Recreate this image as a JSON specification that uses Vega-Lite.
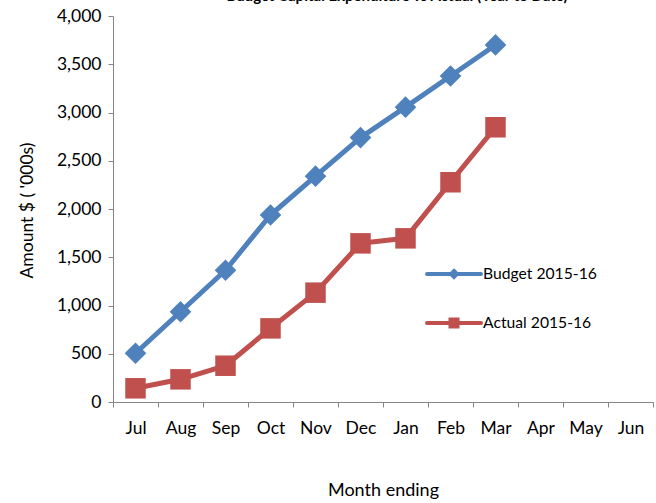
{
  "$schema": "https://vega.github.io/schema/vega-lite/v6.json",
  "autosize": {"type": "none"},
  "width": 540,
  "height": 386,
  "padding": {"left": 113, "top": 16, "right": 3, "bottom": 101},
  "background": "white",
  "title": {
    "text": "Budget Capital Expenditure vs Actual (Year to Date)",
    "font": "Lato",
    "fontSize": 15,
    "fontWeight": "bold",
    "color": "#000000",
    "anchor": "middle",
    "offset": 0,
    "dx": 14,
    "dy": -3
  },
  "config": {
    "view": {"stroke": null},
    "font": "Lato",
    "axis": {
      "labelFont": "Lato",
      "titleFont": "Lato",
      "labelFontSize": 17.5,
      "titleFontSize": 17.5,
      "titleFontWeight": "normal",
      "labelColor": "#000000",
      "titleColor": "#000000",
      "domainColor": "#868686",
      "tickColor": "#868686",
      "tickSize": 5,
      "grid": false
    },
    "legend": {
      "labelFont": "Lato",
      "labelFontSize": 15.7,
      "labelColor": "#000000"
    }
  },
  "data": {
    "values": [
      {"month": "Jul", "series": "Budget 2015-16", "value": 505},
      {"month": "Aug", "series": "Budget 2015-16", "value": 935},
      {"month": "Sep", "series": "Budget 2015-16", "value": 1365},
      {"month": "Oct", "series": "Budget 2015-16", "value": 1938},
      {"month": "Nov", "series": "Budget 2015-16", "value": 2340},
      {"month": "Dec", "series": "Budget 2015-16", "value": 2740},
      {"month": "Jan", "series": "Budget 2015-16", "value": 3055},
      {"month": "Feb", "series": "Budget 2015-16", "value": 3378},
      {"month": "Mar", "series": "Budget 2015-16", "value": 3700},
      {"month": "Jul", "series": "Actual 2015-16", "value": 142},
      {"month": "Aug", "series": "Actual 2015-16", "value": 235},
      {"month": "Sep", "series": "Actual 2015-16", "value": 376},
      {"month": "Oct", "series": "Actual 2015-16", "value": 763},
      {"month": "Nov", "series": "Actual 2015-16", "value": 1133},
      {"month": "Dec", "series": "Actual 2015-16", "value": 1644},
      {"month": "Jan", "series": "Actual 2015-16", "value": 1696},
      {"month": "Feb", "series": "Actual 2015-16", "value": 2277},
      {"month": "Mar", "series": "Actual 2015-16", "value": 2847}
    ]
  },
  "encoding": {
    "x": {
      "field": "month",
      "type": "ordinal",
      "bandPosition": 0.5,
      "scale": {
        "type": "band",
        "domain": ["Jul", "Aug", "Sep", "Oct", "Nov", "Dec", "Jan", "Feb", "Mar", "Apr", "May", "Jun"],
        "paddingInner": 0,
        "paddingOuter": 0
      },
      "axis": {
        "title": "Month ending",
        "titleFontSize": 18,
        "tickBand": "extent",
        "labelAngle": 0,
        "labelPadding": 12,
        "titleY": 88,
        "titleBaseline": "middle"
      }
    },
    "y": {
      "field": "value",
      "type": "quantitative",
      "scale": {"domain": [0, 4000], "nice": false},
      "axis": {
        "title": "Amount $ ( '000s)",
        "values": [0, 500, 1000, 1500, 2000, 2500, 3000, 3500, 4000],
        "format": ",.0f",
        "labelPadding": 7,
        "titleX": -86,
        "titleY": 194,
        "titleAngle": -90,
        "titleBaseline": "middle",
        "titleAlign": "center"
      }
    }
  },
  "layer": [
    {
      "mark": {"type": "line", "strokeWidth": 5, "strokeCap": "round", "strokeJoin": "round"},
      "encoding": {
        "color": {
          "field": "series",
          "type": "nominal",
          "scale": {"domain": ["Budget 2015-16", "Actual 2015-16"], "range": ["#4F81BD", "#C0504D"]},
          "legend": {
            "title": null,
            "orient": "none",
            "legendX": 312,
            "legendY": 229,
            "symbolSize": 2916,
            "symbolStrokeWidth": 4,
            "rowPadding": 9,
            "labelOffset": 0,
            "encode": {
              "symbols": {
                "update": {
                  "shape": {"signal": "datum.value === 'Budget 2015-16' ? 'M-1,0L1,0M0,-0.11L0.11,0L0,0.11L-0.11,0Z' : 'M-1,0L1,0M-0.13,-0.13L0.13,-0.13L0.13,0.13L-0.13,0.13Z'"},
                  "fill": {"signal": "datum.value === 'Budget 2015-16' ? '#4F81BD' : '#C0504D'"},
                  "strokeCap": {"value": "round"}
                }
              }
            }
          }
        }
      }
    },
    {
      "transform": [{"filter": "datum.series === 'Budget 2015-16'"}],
      "mark": {"type": "point", "filled": true, "opacity": 1, "strokeWidth": 0, "shape": "diamond", "color": "#4F81BD", "size": 470}
    },
    {
      "transform": [{"filter": "datum.series === 'Actual 2015-16'"}],
      "mark": {"type": "point", "filled": true, "opacity": 1, "strokeWidth": 0, "shape": "square", "color": "#C0504D", "size": 420}
    }
  ]
}
